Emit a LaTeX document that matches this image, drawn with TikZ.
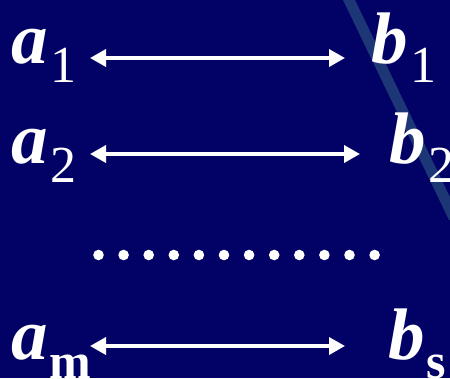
\documentclass[tikz,border=0pt]{standalone}
\usepackage{fontspec}
\setmainfont{Liberation Serif}
\usetikzlibrary{arrows.meta}
\definecolor{bgnavy}{RGB}{2,2,102}
\definecolor{stripe}{RGB}{28,54,118}
\newcommand{\mainletter}[1]{{\fontsize{73}{73}\selectfont\bfseries\itshape #1}}
\newcommand{\subnum}[1]{\kern3pt\raisebox{-19pt}{\fontsize{52}{52}\selectfont #1}}
\newcommand{\subbold}[1]{\kern2pt\raisebox{-19pt}{\fontsize{50}{50}\selectfont\bfseries #1}}
\begin{document}
\begin{tikzpicture}[x=1pt,y=-1pt,
  lbl/.style={text=white,inner sep=0pt,outer sep=0pt,anchor=base west},
  arr/.style={white,line width=3.6pt,{Triangle[length=16pt,width=17pt]}-{Triangle[length=16pt,width=17pt]}},
  dotmark/.style={white}]
\useasboundingbox (0,0) rectangle (450,378);
\fill[bgnavy] (0,0) rectangle (450,378);
\begin{scope}
\clip (0,0) rectangle (450,378);
\fill[stripe] (343,0) -- (355,0) -- (461,220) -- (449,220) -- cycle;
\end{scope}
% rows
\node[lbl] (a1) at (11,63) {\mainletter{a}\subnum{1}};
\node[lbl] (b1) at (371,63) {\mainletter{b}\subnum{1}};
\node[lbl] (a2) at (11,163) {\mainletter{a}\subnum{2}};
\node[lbl] (b2) at (389,163) {\mainletter{b}\subnum{2}};
\node[lbl] (am) at (11,359) {\mainletter{a}\subbold{m}};
\node[lbl] (bs) at (388,359) {\mainletter{b}\subbold{s}};
\draw[arr] ([shift={(79,-5)}]a1.base west) -- ([shift={(-26,-5)}]b1.base west);
\draw[arr] ([shift={(79,-9)}]a2.base west) -- ([shift={(-29,-9)}]b2.base west);
\draw[arr] ([shift={(79,-13)}]am.base west) -- ([shift={(-43,-13)}]bs.base west);
\foreach \k in {0,...,11}
  \fill[dotmark] (98.5+25.1*\k,255) circle (5.3pt);
\end{tikzpicture}
\end{document}
